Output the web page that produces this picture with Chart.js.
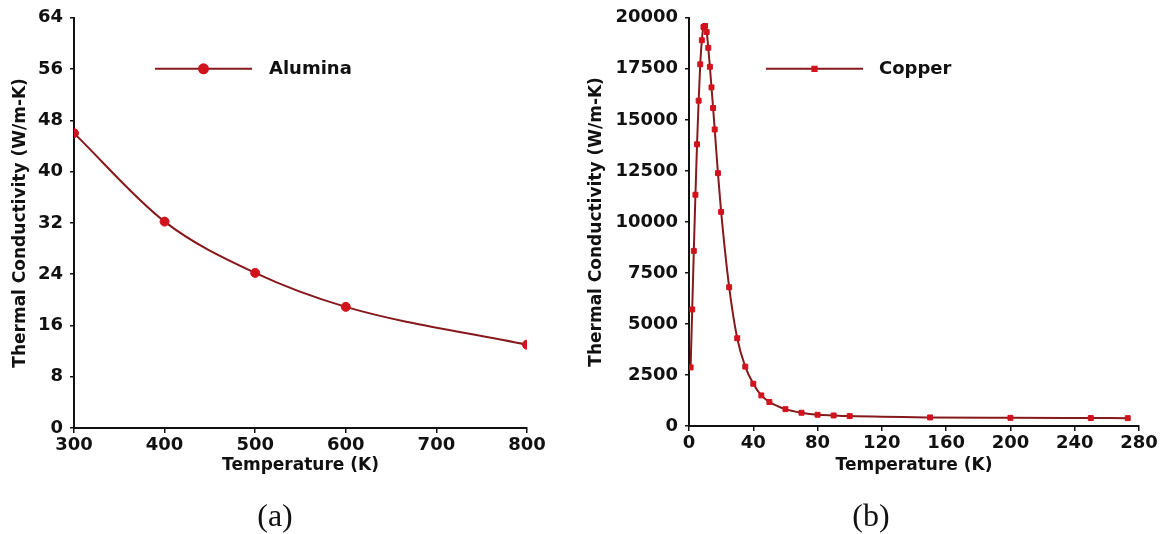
<!DOCTYPE html>
<html>
<head>
<meta charset="utf-8">
<script src="https://cdn.jsdelivr.net/npm/chart.js@4.4.1/dist/chart.umd.min.js"></script>
<style>
  html, body { margin: 0; padding: 0; background: #fff; }
  body { width: 1168px; height: 534px; position: relative; overflow: hidden; }
  canvas { position: absolute; top: 0; }
  #alumina { left: 0; }
  #copper { left: 584px; }
  .caption {
    position: absolute; top: 497px;
    font-family: "Liberation Serif", serif; font-size: 32px; color: #111;
    transform: translateX(-50%);
  }
</style>
</head>
<body>
<canvas id="alumina" width="560" height="500"></canvas>
<canvas id="copper" width="584" height="500"></canvas>
<div class="caption" style="left:275px">(a)</div>
<div class="caption" style="left:871px">(b)</div>
<script>
// thermal conductivity vs temperature
const aluminaTemps = [300, 400, 500, 600, 800];
const aluminaK = [46, 32.2, 24.2, 18.9, 13];

const copperTemps = [1, 2, 3, 4, 5, 6, 7, 8, 9, 10, 11, 12, 13, 14, 15, 16, 18, 20,
  25, 30, 35, 40, 45, 50, 60, 70, 80, 90, 100, 150, 200, 250, 273];
const copperK = [2870, 5710, 8580, 11330, 13800, 15940, 17720, 18900, 19550, 19600,
  19300, 18530, 17600, 16590, 15580, 14530, 12390, 10490, 6800, 4300, 2910, 2070,
  1500, 1180, 825, 650, 550, 517, 485, 420, 400, 390, 385];

const aluminaXTicks = [300, 400, 500, 600, 700, 800];
const aluminaYTicks = [0, 8, 16, 24, 32, 40, 48, 56, 64];
const copperXTicks = [0, 40, 80, 120, 160, 200, 240, 280];
const copperYTicks = [0, 2500, 5000, 7500, 10000, 12500, 15000, 17500, 20000];

const INK = '#111';
const LINE = '#86191b';
const MARK = '#d0131c';
const FONT = '"DejaVu Sans", sans-serif';

Chart.defaults.font.family = FONT;
Chart.defaults.font.weight = 'bold';
Chart.defaults.font.size = 17;
Chart.defaults.color = INK;

// single legend entry drawn inside the plot, line with marker in the middle
const insetLegend = {
  id: 'insetLegend',
  afterDatasetsDraw(chart, args, opts) {
    const { ctx, chartArea } = chart;
    const ds = chart.data.datasets[0];
    const y = chartArea.top + opts.dy;
    const x0 = chartArea.left + opts.dx;
    const x1 = x0 + opts.length;
    ctx.save();
    ctx.strokeStyle = ds.borderColor;
    ctx.lineWidth = ds.borderWidth;
    ctx.beginPath();
    ctx.moveTo(x0, y);
    ctx.lineTo(x1, y);
    ctx.stroke();
    ctx.fillStyle = ds.pointBackgroundColor;
    ctx.strokeStyle = ds.pointBorderColor;
    Chart.helpers.drawPoint(ctx, {
      pointStyle: ds.pointStyle, rotation: 0,
      radius: opts.markerRadius, borderWidth: 1
    }, (x0 + x1) / 2, y);
    ctx.fillStyle = INK;
    ctx.font = 'bold 18px ' + FONT;
    ctx.textBaseline = 'middle';
    ctx.textAlign = 'left';
    ctx.fillText(ds.label, x1 + opts.gap, y + 1);
    ctx.restore();
  }
};

function scales(o) {
  const grid = { drawOnChartArea: false, color: INK, lineWidth: 1.5 };
  return {
    x: {
      type: 'linear', min: o.xTicks[0], max: o.xTicks[o.xTicks.length - 1],
      afterBuildTicks: s => { s.ticks = o.xTicks.map(v => ({ value: v })); },
      afterFit: s => { s.height = o.xHeight; },
      grid: { ...grid, tickLength: 5 },
      border: { color: INK, width: 2 },
      ticks: { padding: 2, maxRotation: 0, autoSkip: false, font: { size: 18 } },
      title: { display: true, text: 'Temperature (K)', padding: { top: 0, bottom: 24 } }
    },
    y: {
      type: 'linear', min: o.yTicks[0], max: o.yTicks[o.yTicks.length - 1],
      afterBuildTicks: s => { s.ticks = o.yTicks.map(v => ({ value: v })); },
      afterFit: s => { s.width = o.yWidth; },
      grid: { ...grid, tickLength: 4 },
      border: { color: INK, width: 2 },
      ticks: { padding: 7, autoSkip: false, font: { size: 18 }, callback: v => String(v) },
      title: { display: true, text: 'Thermal Conductivity (W/m-K)', padding: { top: o.yTitlePad, bottom: 0 } }
    }
  };
}

function series(label, xs, ys, style, radius) {
  return {
    label: label,
    data: xs.map((x, i) => ({ x: x, y: ys[i] })),
    borderColor: LINE,
    borderWidth: 2,
    cubicInterpolationMode: 'monotone',
    pointStyle: style,
    pointRadius: radius,
    pointBackgroundColor: MARK,
    pointBorderColor: MARK,
    pointBorderWidth: 1
  };
}

new Chart(document.getElementById('alumina'), {
  type: 'line',
  data: { datasets: [series('Alumina', aluminaTemps, aluminaK, 'circle', 4.5)] },
  options: {
    responsive: false, animation: false,
    layout: { padding: { left: 0, top: 14, right: 33, bottom: 0 } },
    plugins: {
      legend: { display: false }, tooltip: { enabled: false },
      insetLegend: { dx: 81, dy: 51, length: 97, gap: 17, markerRadius: 4.5 }
    },
    scales: scales({
      xTicks: aluminaXTicks, yTicks: aluminaYTicks,
      xHeight: 72, yWidth: 74, yTitlePad: 10
    })
  },
  plugins: [insetLegend]
});

new Chart(document.getElementById('copper'), {
  type: 'line',
  data: { datasets: [series('Copper', copperTemps, copperK, 'rect', 3.5)] },
  options: {
    responsive: false, animation: false,
    layout: { padding: { left: 0, top: 14, right: 29, bottom: 0 } },
    plugins: {
      legend: { display: false }, tooltip: { enabled: false },
      insetLegend: { dx: 77, dy: 51, length: 97, gap: 16, markerRadius: 3 }
    },
    scales: scales({
      xTicks: copperXTicks, yTicks: copperYTicks,
      xHeight: 74, yWidth: 105, yTitlePad: 2
    })
  },
  plugins: [insetLegend]
});
</script>
</body>
</html>
